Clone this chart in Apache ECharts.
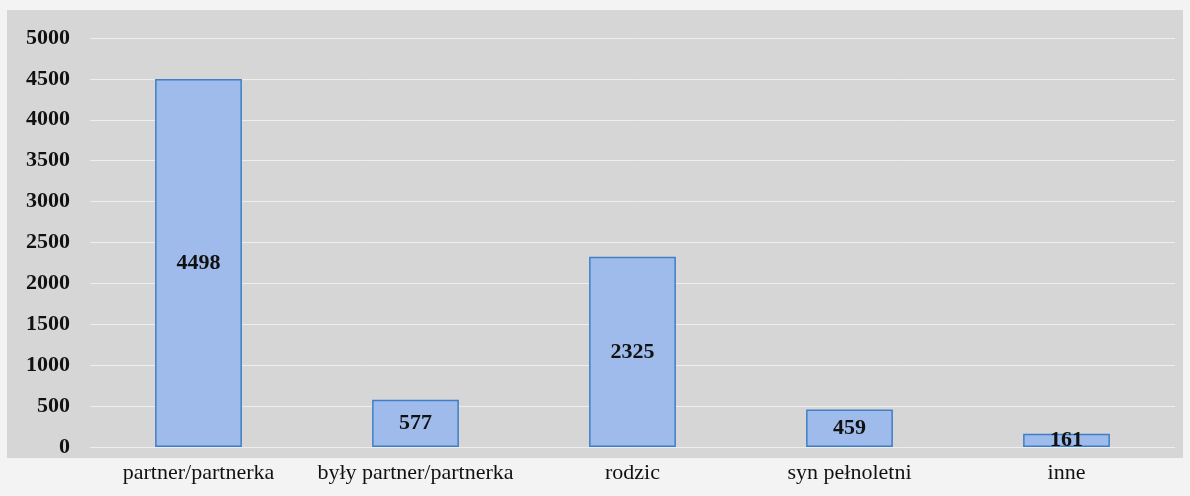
<!DOCTYPE html>
<html><head><meta charset="utf-8">
<script src="https://cdn.jsdelivr.net/npm/echarts@6/dist/echarts.min.js"></script>
<style>html,body{margin:0;padding:0;background:#f4f4f4;}#c{width:1190px;height:496px;}</style>
</head><body><div id="c"></div>
<script>
var categories = ["partner/partnerka", "były partner/partnerka", "rodzic", "syn pełnoletni", "inne"];
var values = [4498, 577, 2325, 459, 161];
var chart = echarts.init(document.getElementById('c'));
chart.setOption({
  backgroundColor: '#f3f3f3',
  animation: false,
  graphic: [{type:'rect', shape:{x:7,y:10,width:1176,height:448}, style:{fill:'#d6d6d6'}, z:-10}],
  grid: {left: 90, right: 15, top: 38, bottom: 49},
  xAxis: {type:'category', data: categories,
    axisLine:{show:false}, axisTick:{show:false},
    axisLabel:{interval:0, fontFamily:'Liberation Serif', fontSize:22, color:'#111', margin:15}},
  yAxis: {type:'value', min:0, max:5000, interval:500,
    axisLine:{show:false}, axisTick:{show:false},
    splitLine:{lineStyle:{color:'#eeeeee', width:1}},
    axisLabel:{fontFamily:'Liberation Serif', fontSize:22, fontWeight:'bold', color:'#111', margin:20,
      formatter: function(v){ return String(v); }}},
  series: [{type:'bar', data: values, barWidth:'40%',
    itemStyle:{color:'#9fbbeb', borderColor:'#3f7fc6', borderWidth:1.5},
    label:{show:true, position:'inside', fontFamily:'Liberation Serif', fontSize:22, fontWeight:'bold', color:'#111'}}]
});
</script></body></html>
